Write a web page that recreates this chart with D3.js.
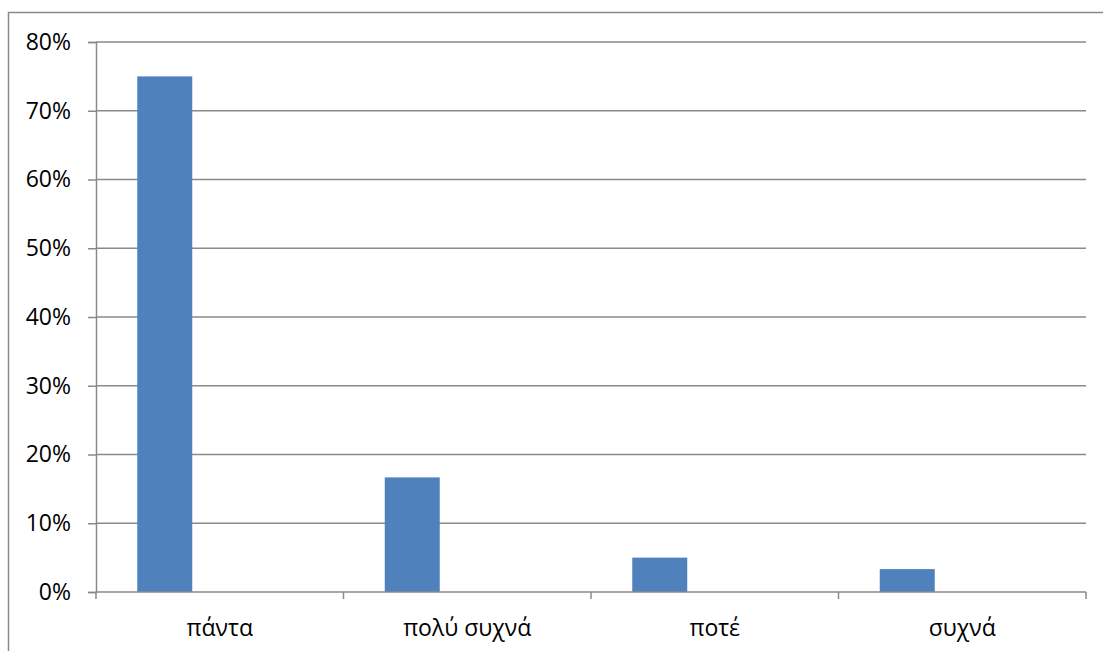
<!DOCTYPE html>
<html>
<head>
<meta charset="utf-8">
<script src="https://cdn.jsdelivr.net/npm/d3@7"></script>
<style>
  html, body { margin: 0; padding: 0; background: #fff; }
  svg { display: block; }
  text { font-family: "Open Sans", "Noto Sans", sans-serif; fill: #000; }
</style>
</head>
<body>
<svg id="chart" width="1103" height="651"></svg>
<script>
// Answer categories and their share of responses
const categories = ["πάντα", "πολύ συχνά", "ποτέ", "συχνά"];
const shares = [0.75, 0.1667, 0.05, 0.0333];
// Series slots per category (only the first one carries values)
const seriesSlots = ["s1", "s2", "s3"];
const yTicks = [0, 0.1, 0.2, 0.3, 0.4, 0.5, 0.6, 0.7, 0.8];

const W = 1103, H = 651;
const plot = { left: 96, right: 1086, top: 42, bottom: 592 };
const gridColor = "#8a8a8a";
const barColor = "#4f81bd";
const fontSize = 23;

const svg = d3.select("#chart");

// outer chart frame (partly clipped by the page edge)
svg.append("rect")
  .attr("x", 8.5).attr("y", 12.5)
  .attr("width", W + 20).attr("height", H + 20)
  .attr("fill", "none")
  .attr("stroke", gridColor)
  .attr("stroke-width", 1.5);

const x = d3.scaleBand()
  .domain(categories)
  .range([plot.left, plot.right])
  .paddingInner(0).paddingOuter(0);

const xInner = d3.scaleBand()
  .domain(seriesSlots)
  .range([0, x.bandwidth()])
  .paddingInner(0)
  .paddingOuter(0.75);

const y = d3.scaleLinear()
  .domain([0, 0.8])
  .range([plot.bottom, plot.top]);

// horizontal gridlines
svg.append("g")
  .selectAll("line")
  .data(yTicks.filter(d => d > 0))
  .join("line")
  .attr("x1", plot.left).attr("x2", plot.right)
  .attr("y1", d => y(d)).attr("y2", d => y(d))
  .attr("stroke", gridColor)
  .attr("stroke-width", 1.5);

// bars
svg.append("g")
  .selectAll("rect")
  .data(categories.map((c, i) => ({ c, v: shares[i] })))
  .join("rect")
  .attr("x", d => x(d.c) + xInner("s1"))
  .attr("width", xInner.bandwidth())
  .attr("y", d => y(d.v))
  .attr("height", d => y(0) - y(d.v))
  .attr("fill", barColor);

// value axis
const yAxis = svg.append("g")
  .attr("transform", `translate(${plot.left},0)`)
  .call(d3.axisLeft(y)
    .tickValues(yTicks)
    .tickFormat(d3.format(".0%"))
    .tickSize(8)
    .tickPadding(17));
yAxis.select(".domain").attr("stroke", gridColor).attr("stroke-width", 1.5);
yAxis.selectAll(".tick line").attr("stroke", gridColor).attr("stroke-width", 1.5);
yAxis.selectAll(".tick text")
  .attr("font-size", fontSize)
  .attr("font-family", "'Open Sans', 'Noto Sans', sans-serif")
  .attr("fill", "#000");

// category axis: ticks sit on the band boundaries
const bounds = categories.map(c => x(c)).concat([plot.right]);
const xAxis = svg.append("g");
xAxis.append("line")
  .attr("x1", plot.left).attr("x2", plot.right)
  .attr("y1", plot.bottom).attr("y2", plot.bottom)
  .attr("stroke", gridColor).attr("stroke-width", 1.5);
xAxis.selectAll("line.tick")
  .data(bounds)
  .join("line")
  .attr("class", "tick")
  .attr("x1", d => d).attr("x2", d => d)
  .attr("y1", plot.bottom).attr("y2", plot.bottom + 7)
  .attr("stroke", gridColor).attr("stroke-width", 1.5);
xAxis.selectAll("text")
  .data(categories)
  .join("text")
  .attr("x", d => x(d) + x.bandwidth() / 2)
  .attr("y", 636)
  .attr("text-anchor", "middle")
  .attr("font-size", fontSize)
  .text(d => d);
</script>
</body>
</html>
